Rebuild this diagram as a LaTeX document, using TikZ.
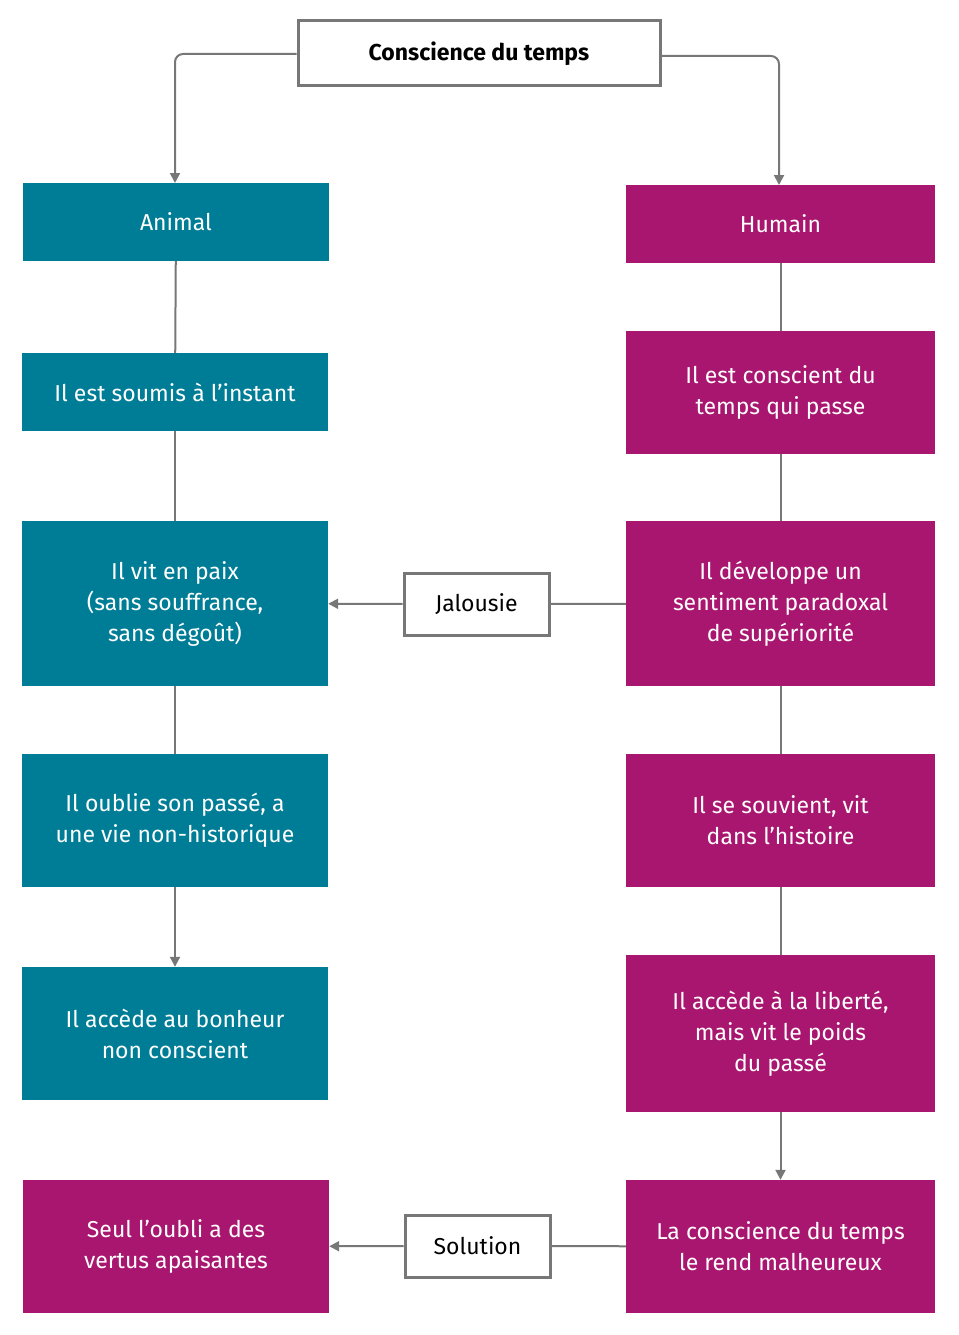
\documentclass[tikz,border=0pt]{standalone}
\usepackage{fontspec}
\setmainfont{Fira Sans}
\usetikzlibrary{arrows.meta}
\definecolor{teal1}{HTML}{007D96}
\definecolor{mag1}{HTML}{A8166F}
\definecolor{gr}{HTML}{777777}
\begin{document}
\begin{tikzpicture}[x=1pt,y=-1pt,
 box/.style={draw=none,inner sep=0pt,text=white,align=center,font=\fontsize{23}{31}\selectfont},
 tb/.style={box,fill=teal1},
 mb/.style={box,fill=mag1},
 wb/.style={draw=gr,line width=3pt,fill=white,inner sep=0pt,align=center,font=\fontsize{23}{28}\selectfont},
 ln/.style={draw=gr,line width=2pt},
 ar/.style={ln,-{Triangle[length=10pt,width=10pt]}}]
\useasboundingbox (0,0) rectangle (958,1335);
\newcommand\bx[7]{\node[#1,minimum width=#4-#3,minimum height=#6-#5] (#2) at ({(#3+#4)/2},{(#5+#6)/2}) {#7};}
\bx{wb}{title}{298}{660}{21}{86}{\textbf{Conscience du temps}}
\bx{tb}{animal}{23}{329}{183}{261}{Animal}
\bx{mb}{humain}{626}{935}{185}{263}{Humain}
\bx{tb}{soumis}{22}{328}{353}{431}{Il est soumis à l’instant}
\bx{tb}{paix}{22}{328}{521}{686}{Il vit en paix\\(sans souffrance,\\sans dégoût)}
\bx{tb}{oublie}{22}{328}{754}{887}{Il oublie son passé, a\\une vie non-historique}
\bx{tb}{bonheur}{22}{328}{967}{1100}{Il accède au bonheur\\non conscient}
\bx{mb}{seul}{23}{329}{1180}{1313}{Seul l’oubli a des\\vertus apaisantes}
\bx{mb}{conscient}{626}{935}{331}{454}{Il est conscient du\\temps qui passe}
\bx{mb}{dev}{626}{935}{521}{686}{Il développe un\\sentiment paradoxal\\de supériorité}
\bx{mb}{souv}{626}{935}{754}{887}{Il se souvient, vit\\dans l’histoire}
\bx{mb}{liberte}{626}{935}{955}{1112}{Il accède à la liberté,\\mais vit le poids\\du passé}
\bx{mb}{malh}{626}{935}{1180}{1313}{La conscience du temps\\le rend malheureux}
\bx{wb}{jal}{404}{549}{573}{635}{Jalousie}
\bx{wb}{sol}{405}{550}{1215}{1277}{Solution}
\draw[ar,rounded corners=8pt] (title.west|-0,54) -- (175,54) -- (175,183);
\draw[ar,rounded corners=8pt] (title.east|-0,56) -- (779,56) -- (779,185);
\draw[ln] (animal) -- (soumis);
\draw[ln] (soumis) -- (paix);
\draw[ln] (paix) -- (oublie);
\draw[ar] (oublie) -- (bonheur);
\draw[ln] (humain) -- (conscient);
\draw[ln] (conscient) -- (dev);
\draw[ln] (dev) -- (souv);
\draw[ln] (souv) -- (liberte);
\draw[ar] (liberte) -- (malh);
\draw[ln] (dev) -- (jal);
\draw[ar] (jal) -- (paix);
\draw[ln] (malh) -- (sol);
\draw[ar] (sol) -- (seul);
\end{tikzpicture}
\end{document}
